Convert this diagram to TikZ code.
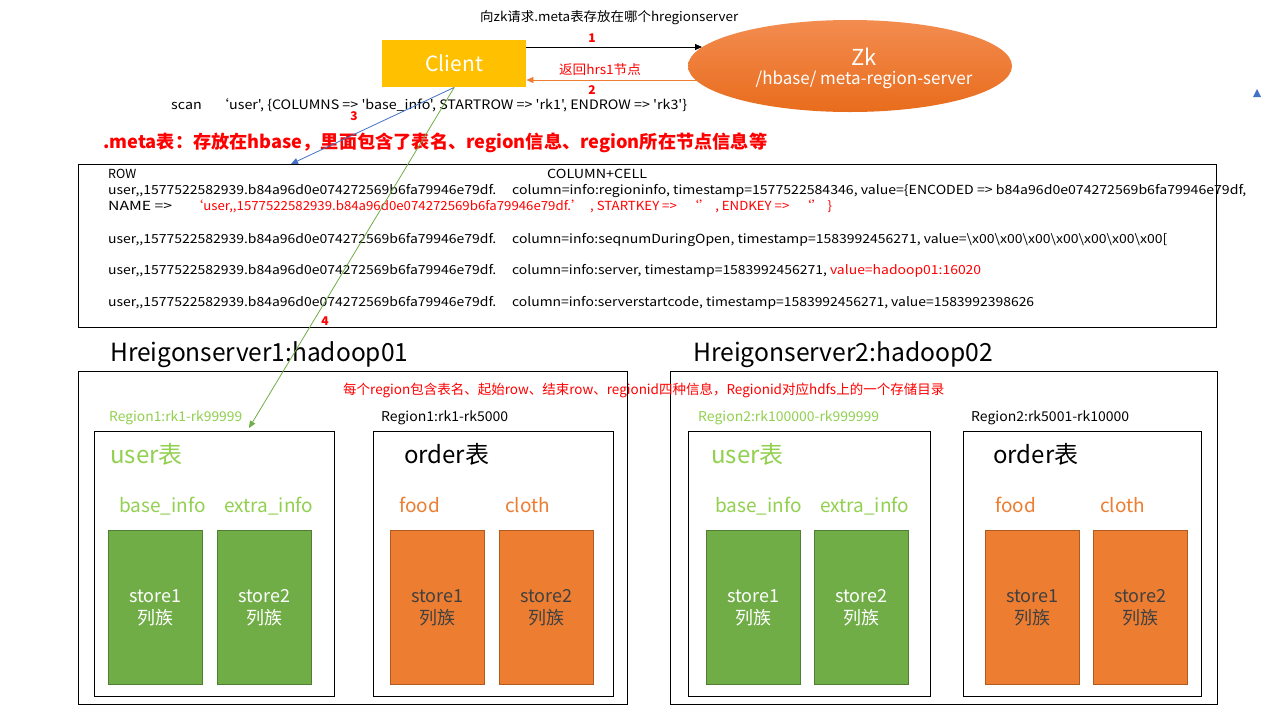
\documentclass[tikz,border=0pt]{standalone}
\usepackage{fontspec}
\usepackage{graphicx}
\newfontfamily\cjk{Noto Sans CJK SC}
\setmainfont{Noto Sans CJK SC}
\usetikzlibrary{arrows.meta,shapes.geometric}
\newcommand\fsz[1]{\cjk\fontsize{#1}{#1}\selectfont}
\newcommand\fitto[2]{\resizebox{#1}{\height}{#2}}
\definecolor{cyellow}{RGB}{255,192,0}
\definecolor{corange}{RGB}{237,125,49}
\definecolor{cblue}{RGB}{68,114,196}
\definecolor{cgreen}{RGB}{112,173,71}
\definecolor{cgreenborder}{RGB}{80,126,50}
\definecolor{clgreen}{RGB}{146,208,80}
\definecolor{corangeborder}{RGB}{174,90,33}
\definecolor{cred}{RGB}{255,0,0}
\definecolor{cdark}{RGB}{64,64,64}
\definecolor{zktop}{RGB}{243,140,80}
\definecolor{zkbot}{RGB}{232,108,28}
\begin{document}
\begin{tikzpicture}[x=1pt,y=-1pt,
  tx/.style={inner sep=0,anchor=base west},
  lbl/.style={inner sep=0,anchor=base,text=cred,font=\fsz{12}\bfseries},
  rect/.style={draw=black,line width=0.9pt,inner sep=0,anchor=north west},
  cbox/.style={draw=cgreenborder,fill=cgreen,line width=0.8pt,inner sep=0,minimum width=94,minimum height=154,text=white,align=center,font={\cjk\fontsize{18}{22}\selectfont},anchor=north west},
  obox/.style={cbox,draw=corangeborder,fill=corange,text=cdark},
  arr/.style={-{Triangle[length=7pt,width=6pt]},line width=0.8pt}]
\useasboundingbox (0,0) rectangle (1274,713);
\fill[white] (0,0) rectangle (1274,713);

% top
\node[tx,font=\fsz{13}] (title) at (480,21.5) {\fitto{258pt}{向zk请求.meta表存放在哪个hregionserver}};
\node[fill=cyellow,minimum width=144,minimum height=47,inner sep=0,anchor=north west,text=white,font=\fsz{21}] (client) at (382,40) {Client};
\node[ellipse,minimum width=324,minimum height=92,inner sep=0,top color=zktop,bottom color=zkbot,draw=none] (zk) at (850,66) {};
\node[inner sep=0,text=white,font=\fsz{22}] (zkt) at (864,57) {Zk};
\node[inner sep=0,text=white,font=\fsz{17}] (zkp) at (864,80) {/hbase/ meta-region-server};
\coordinate (z1) at (702,47);
\coordinate (z2) at (697,80);
\draw[arr] (client.east |- z1) -- (z1);
\draw[arr,corange] (z2) -- (client.east |- z2);
\node[lbl] (n1) at (592,42.5) {1};
\node[lbl] (n2) at (592,94.5) {2};
\node[inner sep=0,text=cred,font=\fsz{13}] (ret) at (600,70) {\fitto{82pt}{返回hrs1节点}};
\node[tx,font=\fsz{13}] (scan) at (171,109.5) {\fitto{516pt}{scan\hspace{12pt}‘user', \{COLUMNS => 'base\_info', STARTROW => 'rk1', ENDROW => 'rk3'\}}};
\node[lbl] (n3) at (354,120.5) {3};
\node[lbl] (n4) at (325,325.5) {4};

% meta
\node[tx,text=cred,font=\fsz{18}\bfseries] (meta) at (103,148.5) {\fitto{664pt}{.meta表：存放在hbase，里面包含了表名、region信息、region所在节点信息等}};

% table
\node[rect,minimum width=1138,minimum height=163] (tbl) at (78,164) {};
\node[tx,font=\fsz{12.5}] (r0a) at (108,178.5) {ROW};
\node[tx,font=\fsz{12.5}] (r0b) at (547,178.5) {\fitto{100pt}{COLUMN+CELL}};
\node[tx,font=\fsz{12.5}] (r1a) at (108,194.5) {\fitto{388pt}{user,\kern0pt,1577522582939.b84a96d0e074272569b6fa79946e79df.}};
\node[tx,font=\fsz{12.5}] (r1b) at (512,194.5) {\fitto{734pt}{column=info:regioninfo, timestamp=1577522584346, value=\{ENCODED => b84a96d0e074272569b6fa79946e79df,}};
\node[tx,font=\fsz{12.5}] (r2a) at (108,210.5) {\fitto{64pt}{NAME =>}};
\node[tx,font=\fsz{12.5},text=cred] (r2b) at (190,210.5) {\fitto{642pt}{‘user,\kern0pt,1577522582939.b84a96d0e074272569b6fa79946e79df.’\ \ , STARTKEY =>\ \ \ ‘’\ , ENDKEY =>\ \ \ ‘’\ \}}};
\node[tx,font=\fsz{12.5}] (r3a) at (108,243.5) {\fitto{388pt}{user,\kern0pt,1577522582939.b84a96d0e074272569b6fa79946e79df.}};
\node[tx,font=\fsz{12.5}] (r3b) at (512,243.5) {\fitto{655pt}{column=info:seqnumDuringOpen, timestamp=1583992456271, value=\textbackslash x00\textbackslash x00\textbackslash x00\textbackslash x00\textbackslash x00\textbackslash x00\textbackslash x00[}};
\node[tx,font=\fsz{12.5}] (r4a) at (108,274.5) {\fitto{388pt}{user,\kern0pt,1577522582939.b84a96d0e074272569b6fa79946e79df.}};
\node[tx,font=\fsz{12.5}] (r4b) at (512,274.5) {\fitto{469pt}{column=info:server, timestamp=1583992456271, \textcolor{cred}{value=hadoop01:16020}}};
\node[tx,font=\fsz{12.5}] (r5a) at (108,306.5) {\fitto{388pt}{user,\kern0pt,1577522582939.b84a96d0e074272569b6fa79946e79df.}};
\node[tx,font=\fsz{12.5}] (r5b) at (512,306.5) {\fitto{522pt}{column=info:serverstartcode, timestamp=1583992456271, value=1583992398626}};

% servers
\node[tx,font=\fsz{25}] (h1) at (110,361) {\fitto{298pt}{Hreigonserver1:hadoop01}};
\node[tx,font=\fsz{25}] (h2) at (693,361) {\fitto{300pt}{Hreigonserver2:hadoop02}};
\node[rect,minimum width=549,minimum height=333] (s1) at (78,371) {};
\node[rect,minimum width=547,minimum height=333] (s2) at (670,371) {};
\node[tx,font=\fsz{13.5},text=cred] (ann) at (343,394) {\fitto{601pt}{每个region包含表名、起始row、结束row、regionid四种信息，Regionid对应hdfs上的一个存储目录}};

\node[tx,font=\fsz{13.5},text=clgreen] (rg1) at (109,421) {\fitto{133pt}{Region1:rk1-rk99999}};
\node[tx,font=\fsz{13.5}] (rg2) at (381,421) {\fitto{127pt}{Region1:rk1-rk5000}};
\node[tx,font=\fsz{13.5},text=clgreen] (rg3) at (698,421) {\fitto{181pt}{Region2:rk100000-rk999999}};
\node[tx,font=\fsz{13.5}] (rg4) at (971,421) {\fitto{158pt}{Region2:rk5001-rk10000}};

% region boxes
\node[rect,minimum width=240,minimum height=265] (u1) at (94,431) {};
\node[rect,minimum width=240,minimum height=265] (o1) at (373,431) {};
\node[rect,minimum width=242,minimum height=265] (u2) at (688,431) {};
\node[rect,minimum width=238,minimum height=265] (o2) at (963,431) {};

\node[tx,font=\fsz{24},text=clgreen] (ut1) at (110,463.5) {user表};
\node[tx,font=\fsz{24}] (ot1) at (404,463.5) {order表};
\node[tx,font=\fsz{24},text=clgreen] (ut2) at (711,463.5) {user表};
\node[tx,font=\fsz{24}] (ot2) at (993,463.5) {order表};

\node[tx,font=\fsz{19},text=clgreen] (bi1) at (119,512.5) {base\_info};
\node[tx,font=\fsz{19},text=clgreen] (ei1) at (224,512.5) {extra\_info};
\node[tx,font=\fsz{19},text=corange] (fd1) at (399,512.5) {food};
\node[tx,font=\fsz{19},text=corange] (cl1) at (505,512.5) {cloth};
\node[tx,font=\fsz{19},text=clgreen] (bi2) at (715,512.5) {base\_info};
\node[tx,font=\fsz{19},text=clgreen] (ei2) at (820,512.5) {extra\_info};
\node[tx,font=\fsz{19},text=corange] (fd2) at (995,512.5) {food};
\node[tx,font=\fsz{19},text=corange] (cl2) at (1100,512.5) {cloth};

\node[cbox] (g1) at (108,530) {store1\\列族};
\node[cbox] (g2) at (217,530) {store2\\列族};
\node[obox] (or1) at (390,530) {store1\\列族};
\node[obox] (or2) at (499,530) {store2\\列族};
\node[cbox] (g3) at (706,530) {store1\\列族};
\node[cbox] (g4) at (814,530) {store2\\列族};
\node[obox] (or3) at (985,530) {store1\\列族};
\node[obox] (or4) at (1093,530) {store2\\列族};

% client arrows
\coordinate (e3) at (291,164);
\coordinate (e4) at (249,428);
\draw[arr,cblue] (client.south) -- (e3);
\draw[arr,cgreen] (client.south) -- (e4);

% small triangle
\fill[cblue] (1253,97) -- (1261,97) -- (1257,89) -- cycle;
\end{tikzpicture}
\end{document}
